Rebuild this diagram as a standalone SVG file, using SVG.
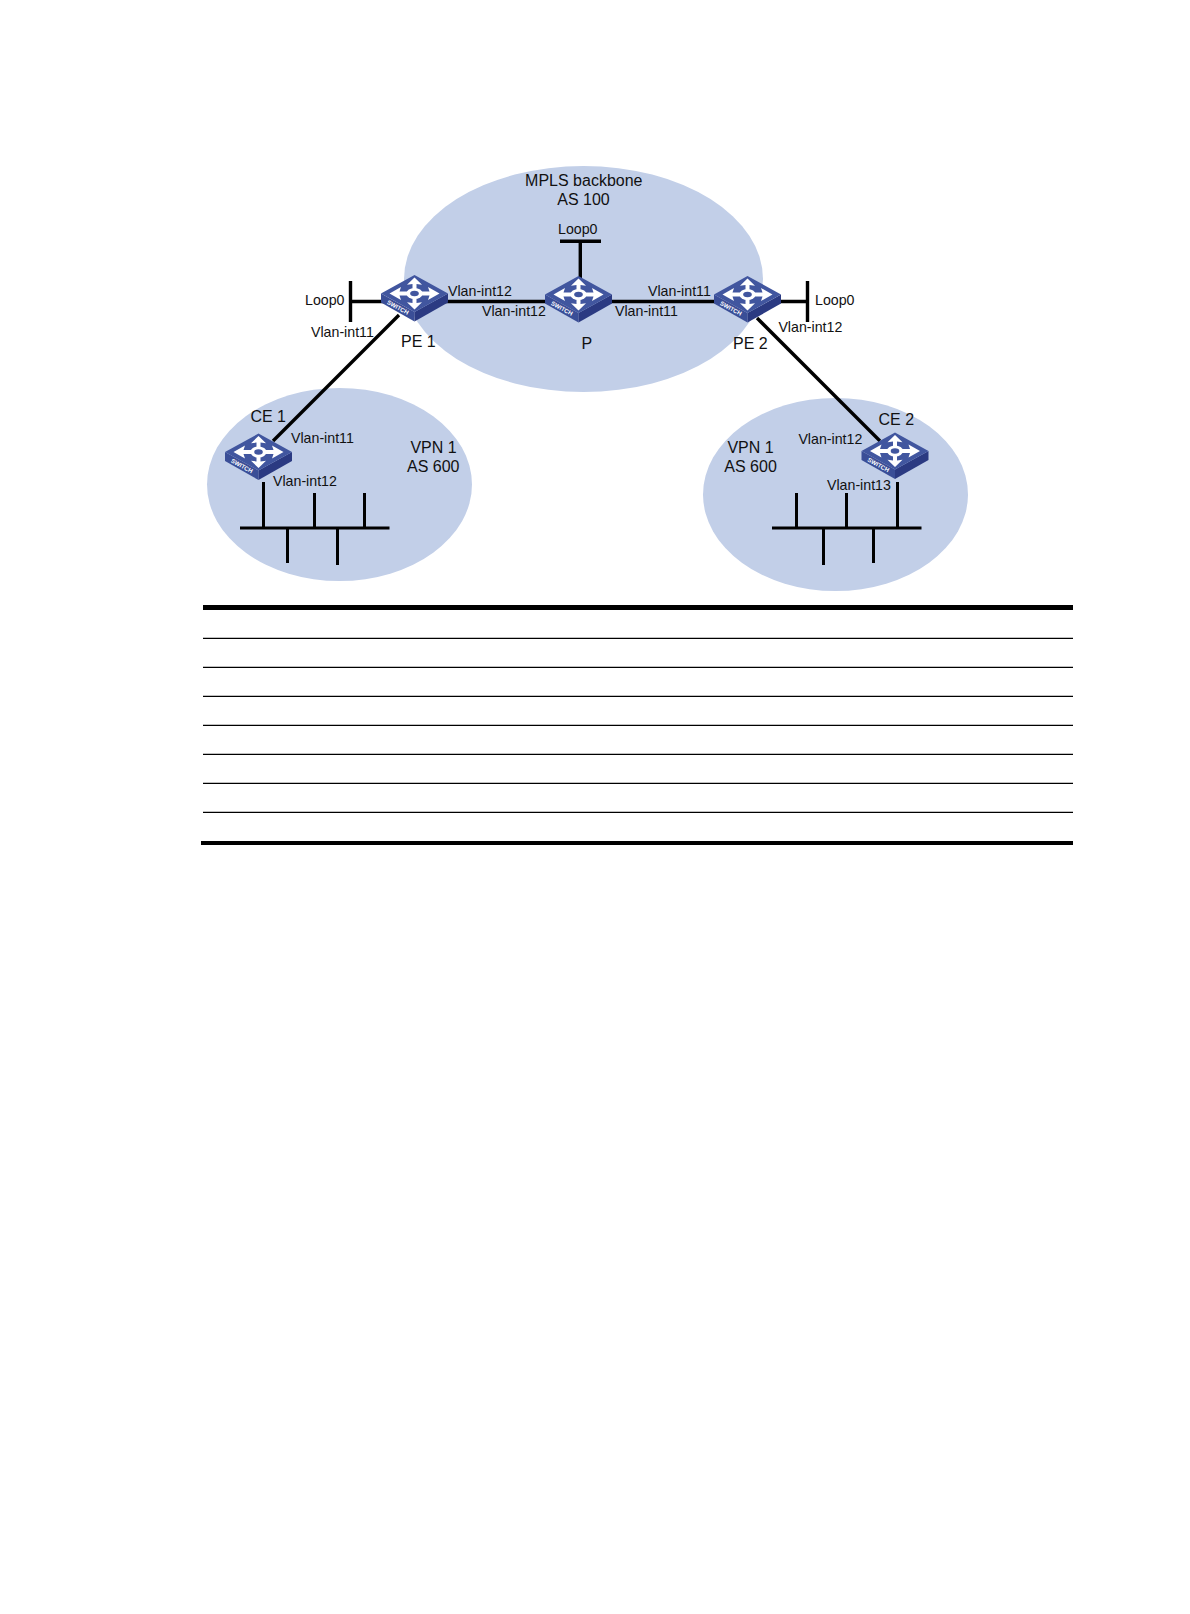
<svg xmlns="http://www.w3.org/2000/svg" xmlns:xlink="http://www.w3.org/1999/xlink" width="1190" height="1614" viewBox="0 0 1190 1614">
<style>
text{font-family:"Liberation Sans",Arial,sans-serif;fill:#111}
.l{font-size:14.2px}
.b{font-size:16px}
.m{text-anchor:middle}
.area{fill:#c2cfe8}
.c{stroke:#000;stroke-width:3.4;fill:none}
.d{stroke:#000;stroke-width:3;fill:none}
.rt{stroke:#000;stroke-width:5.2}
.rb{stroke:#000;stroke-width:4}
.r{stroke:#000;stroke-width:1.2}
.sw{font-size:6px;font-weight:bold;fill:#fff}
</style>
<defs>
<g id="sw">
<polygon points="-33.5,0 0,18.5 0,28 -33.5,9" fill="#3a4e97"/>
<polygon points="33.5,0 0,18.5 0,28 33.5,9" fill="#2b3a82"/>
<polygon points="0,-18.5 33.5,0 0,18.5 -33.5,0" fill="#41569f"/>
<g fill="#fff" stroke="none">
<ellipse cx="0" cy="0" rx="8" ry="5.6"/>
<polygon points="25,0 13.5,-6.5 15,-1.9 5,-1.9 5,1.9 15,1.9 13.5,6.5"/>
<polygon points="-25,0 -13.5,-6.5 -15,-1.9 -5,-1.9 -5,1.9 -15,1.9 -13.5,6.5"/>
<polygon points="0,-16 -7.5,-8.8 -2,-9.4 -2,-3 2,-3 2,-9.4 7.5,-8.8"/>
<polygon points="0,16 -7.5,8.8 -2,9.4 -2,3 2,3 2,9.4 7.5,8.8"/>
</g>
<ellipse cx="0" cy="0" rx="4.3" ry="2.8" fill="#41569f"/>
</g>
</defs>
<rect width="1190" height="1614" fill="#fff"/>
<g id="areas">
<ellipse id="area-backbone" class="area" cx="583.5" cy="279" rx="179.5" ry="113"/>
<ellipse id="area-vpn-left" class="area" cx="339.5" cy="484.5" rx="132.5" ry="96.5"/>
<ellipse id="area-vpn-right" class="area" cx="835.5" cy="494.5" rx="132.5" ry="96.5"/>
</g>
<g id="connectors">
<path class="c" d="M350.5 281V322M350 301.5H385"/>
<path class="c" d="M444 301.5H549"/>
<path class="c" d="M608 301.5H718"/>
<path class="c" d="M777 301.5H807.5M807.5 281V322"/>
<path class="c" d="M560 241.2H601M580.3 241V278"/>
<path class="c" d="M399 315L273 441"/>
<path class="c" d="M757 318L880 441"/>
<path class="d" d="M240 528H389.5M263.5 482V528M314.5 493V528M364.5 493V528M287.5 528V563M337.5 528V565"/>
<path class="d" d="M772 528H921.5M796.5 493V528M846.5 493V528M897.5 482V528M823.5 528V565M873.5 528V563"/>
</g>
<g id="node-pe1">
<use xlink:href="#sw" href="#sw" x="414.5" y="293.5"/>
<text class="sw" transform="translate(386.5,303.5) rotate(29)">SWITCH</text>
<text class="b" x="401" y="346.7">PE 1</text>
</g>
<g id="node-p">
<use xlink:href="#sw" href="#sw" x="578.5" y="294.5"/>
<text class="sw" transform="translate(550.5,304.5) rotate(29)">SWITCH</text>
<text class="b" x="581.5" y="349">P</text>
</g>
<g id="node-pe2">
<use xlink:href="#sw" href="#sw" x="747.5" y="294.5"/>
<text class="sw" transform="translate(719.5,304.5) rotate(29)">SWITCH</text>
<text class="b" x="733" y="348.7">PE 2</text>
</g>
<g id="node-ce1">
<use xlink:href="#sw" href="#sw" x="258.5" y="452"/>
<text class="sw" transform="translate(230.5,462) rotate(29)">SWITCH</text>
<text class="b" x="250.4" y="421.7">CE 1</text>
</g>
<g id="node-ce2">
<use xlink:href="#sw" href="#sw" x="895" y="451"/>
<text class="sw" transform="translate(867,461) rotate(29)">SWITCH</text>
<text class="b" x="878.5" y="424.7">CE 2</text>
</g>
<g id="labels">
<text class="b m" x="583.8" y="186">MPLS backbone</text>
<text class="b m" x="583.5" y="204.7">AS 100</text>
<text class="l" x="558" y="234">Loop0</text>
<text class="l" x="305" y="305">Loop0</text>
<text class="l" x="815" y="305">Loop0</text>
<text class="l" x="448" y="296">Vlan-int12</text>
<text class="l" x="482" y="316">Vlan-int12</text>
<text class="l" x="311" y="337">Vlan-int11</text>
<text class="l" x="648" y="296">Vlan-int11</text>
<text class="l" x="615" y="316">Vlan-int11</text>
<text class="l" x="778.4" y="332">Vlan-int12</text>
<text class="l" x="291" y="443">Vlan-int11</text>
<text class="l" x="273" y="486">Vlan-int12</text>
<text class="l" x="798.4" y="444">Vlan-int12</text>
<text class="l" x="827" y="490">Vlan-int13</text>
<text class="b" x="410.4" y="452.7">VPN 1</text>
<text class="b" x="407" y="471.7">AS 600</text>
<text class="b" x="727.4" y="452.7">VPN 1</text>
<text class="b" x="724.3" y="471.7">AS 600</text>
</g>
<g id="table-rules">
<line class="rt" x1="203" y1="607.5" x2="1073" y2="607.5"/>
<line class="r" x1="203" y1="638.4" x2="1073" y2="638.4"/>
<line class="r" x1="203" y1="667.4" x2="1073" y2="667.4"/>
<line class="r" x1="203" y1="696.4" x2="1073" y2="696.4"/>
<line class="r" x1="203" y1="725.4" x2="1073" y2="725.4"/>
<line class="r" x1="203" y1="754.4" x2="1073" y2="754.4"/>
<line class="r" x1="203" y1="783.4" x2="1073" y2="783.4"/>
<line class="r" x1="203" y1="812.4" x2="1073" y2="812.4"/>
<line class="rb" x1="201" y1="843" x2="1073" y2="843"/>
</g>
</svg>
